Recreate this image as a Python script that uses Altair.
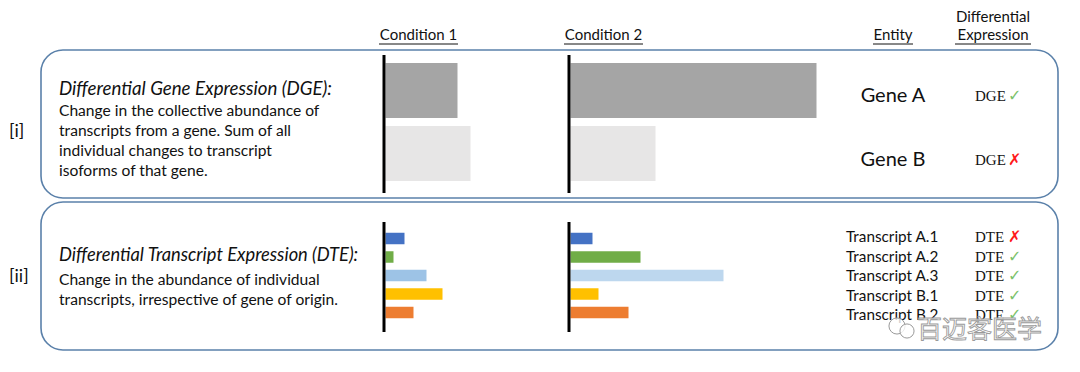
import altair as alt
import pandas as pd

# ---------------- data ----------------
conditions = ["Condition 1", "Condition 2"]
genes = ["Gene A", "Gene B"]
gene_cond1 = [72, 85]
gene_cond2 = [246, 85]
gene_de = [True, False]

transcripts = ["Transcript A.1", "Transcript A.2", "Transcript A.3",
               "Transcript B.1", "Transcript B.2"]
tx_cond1 = [19, 8, 41, 57, 28]
tx_cond2 = [22, 70, 153, 28, 58]
tx_de = [False, True, True, True, True]

panel_labels = ["[i]", "[ii]"]
dge_title = ["Differential Gene Expression (DGE):"]
dge_body = ["Change in the collective abundance of",
            "transcripts from a gene. Sum of all",
            "individual changes to transcript",
            "isoforms of that gene."]
dte_title = ["Differential Transcript Expression (DTE):"]
dte_body = ["Change in the abundance of individual",
            "transcripts, irrespective of gene of origin."]
watermark = "百迈客医学"

# ---------------- styles ----------------
gene_colors = ["#a5a5a5", "#e7e6e6"]
tx_colors = [["#4472c4", "#70ad47", "#9dc3e6", "#ffc000", "#ed7d31"],
             ["#4472c4", "#70ad47", "#bdd7ee", "#ffc000", "#ed7d31"]]
BOX_COLOR = "#5b81aa"
OK_COLOR = "#7cc26a"
NO_COLOR = "#ff1a1a"
FONT = "Lato"

# ---------------- layout (page pixel coordinates) ----------------
W, H = 1064, 356
AXIS_X = [384, 569]
BAR_START = [385.5, 570.5]
BOXES = [(41, 1058, 50, 198), (41, 1058, 202, 350)]
AXIS_Y = [(55, 193), (222, 332)]
GENE_TOP, GENE_PITCH, GENE_H = 63, 63, 55
TX_MID, TX_PITCH, TX_H = 238.5, 18.5, 11.5

xs = alt.Scale(domain=[8, 8 + W], nice=False, zero=False)
ys = alt.Scale(domain=[8, 8 + H], nice=False, zero=False, reverse=True)


def X(f="x"):
    return alt.X(f"{f}:Q", scale=xs, axis=None)


def Y(f="y"):
    return alt.Y(f"{f}:Q", scale=ys, axis=None)


# boxes
box_df = pd.DataFrame([dict(x=b[0], x2=b[1], y=b[2], y2=b[3]) for b in BOXES])
boxes = alt.Chart(box_df).mark_rect(
    cornerRadius=22, fill="white", stroke=BOX_COLOR, strokeWidth=1.6
).encode(x=X(), x2="x2:Q", y=Y(), y2="y2:Q")

# bars
rows = []
for ci, vals in enumerate([gene_cond1, gene_cond2]):
    for i, v in enumerate(vals):
        top = GENE_TOP + i * GENE_PITCH
        rows.append(dict(cond=conditions[ci], entity=genes[i],
                         x=BAR_START[ci], x2=BAR_START[ci] + v,
                         y=top, y2=top + GENE_H, color=gene_colors[i]))
for ci, vals in enumerate([tx_cond1, tx_cond2]):
    for i, v in enumerate(vals):
        mid = TX_MID + i * TX_PITCH
        rows.append(dict(cond=conditions[ci], entity=transcripts[i],
                         x=BAR_START[ci], x2=BAR_START[ci] + v,
                         y=mid - TX_H / 2, y2=mid + TX_H / 2,
                         color=tx_colors[ci][i]))
bars = alt.Chart(pd.DataFrame(rows)).mark_rect().encode(
    x=X(), x2="x2:Q", y=Y(), y2="y2:Q",
    color=alt.Color("color:N", scale=None))

# axis lines
ax_df = pd.DataFrame([dict(x=ax, y=a[0], y2=a[1]) for a in AXIS_Y for ax in AXIS_X])
axes = alt.Chart(ax_df).mark_rule(color="black", strokeWidth=3).encode(
    x=X(), y=Y(), y2="y2:Q")

# headers
hdr_df = pd.DataFrame([
    dict(t=conditions[0], x=418.5, y=40),
    dict(t=conditions[1], x=603.5, y=40),
    dict(t="Entity", x=893, y=40),
    dict(t="Differential", x=993, y=22),
    dict(t="Expression", x=993, y=40),
])
headers = alt.Chart(hdr_df).mark_text(
    font=FONT, fontSize=15, align="center", baseline="alphabetic", color="#111"
).encode(x=X(), y=Y(), text="t:N")
ul_df = pd.DataFrame([
    dict(x=379, x2=458, y=44), dict(x=564, x2=643, y=44),
    dict(x=873, x2=913, y=44), dict(x=955, x2=1031, y=44),
])
underlines = alt.Chart(ul_df).mark_rule(color="#111", strokeWidth=1).encode(
    x=X(), x2="x2:Q", y=Y())

# panel labels
pl_df = pd.DataFrame([dict(t=panel_labels[0], x=9, y=137),
                      dict(t=panel_labels[1], x=9, y=282)])
plabels = alt.Chart(pl_df).mark_text(
    font=FONT, fontSize=18, align="left", baseline="alphabetic", color="#111"
).encode(x=X(), y=Y(), text="t:N")

# description texts
title_df = pd.DataFrame([dict(t=dge_title[0], x=59, y=95, s=18.7),
                         dict(t=dte_title[0], x=59, y=261, s=18.3)])
titles = alt.Chart(title_df).mark_text(
    font=FONT, fontStyle="italic", align="left",
    baseline="alphabetic", color="#111"
).encode(x=X(), y=Y(), text="t:N", size=alt.Size("s:Q", scale=None))
body_rows = [dict(t=s, x=59, y=116 + i * 19.9) for i, s in enumerate(dge_body)]
body_rows += [dict(t=s, x=59, y=285 + i * 20) for i, s in enumerate(dte_body)]
body = alt.Chart(pd.DataFrame(body_rows)).mark_text(
    font=FONT, fontSize=15.6, align="left", baseline="alphabetic", color="#111"
).encode(x=X(), y=Y(), text="t:N")

# entity labels
gene_df = pd.DataFrame([dict(t=g, x=893, y=102 + i * 64) for i, g in enumerate(genes)])
gene_txt = alt.Chart(gene_df).mark_text(
    font=FONT, fontSize=20, align="center", baseline="alphabetic", color="#111"
).encode(x=X(), y=Y(), text="t:N")
tx_df = pd.DataFrame([dict(t=s, x=846, y=242 + i * 19.6) for i, s in enumerate(transcripts)])
tx_txt = alt.Chart(tx_df).mark_text(
    font=FONT, fontSize=15.3, align="left", baseline="alphabetic", color="#111"
).encode(x=X(), y=Y(), text="t:N")

# DE labels
de_rows = [dict(t="DGE", x=975, y=101 + i * 64) for i in range(len(genes))]
de_rows += [dict(t="DTE", x=975, y=242 + i * 19.6) for i in range(len(transcripts))]
de_txt = alt.Chart(pd.DataFrame(de_rows)).mark_text(
    font="Liberation Serif", fontSize=15, align="left", baseline="alphabetic",
    color="#111"
).encode(x=X(), y=Y(), text="t:N")
mk_rows = [dict(t="✓" if d else "✗", c=OK_COLOR if d else NO_COLOR, x=1008, y=101 + i * 64)
           for i, d in enumerate(gene_de)]
mk_rows += [dict(t="✓" if d else "✗", c=OK_COLOR if d else NO_COLOR, x=1008, y=242 + i * 19.6)
            for i, d in enumerate(tx_de)]
marks = alt.Chart(pd.DataFrame(mk_rows)).mark_text(
    font="DejaVu Sans", fontSize=16, align="left", baseline="alphabetic"
).encode(x=X(), y=Y(), text="t:N", color=alt.Color("c:N", scale=None))

# watermark
wm_df = pd.DataFrame([dict(t=watermark, x=917, y=338)])
wm = alt.Chart(wm_df).mark_text(
    font="Noto Sans CJK SC", fontSize=25, align="left", baseline="alphabetic",
    fill="white", fillOpacity=0.8, stroke="#9a9a9a", strokeWidth=0.9
).encode(x=X(), y=Y(), text="t:N")
icon_df = pd.DataFrame([dict(x=897, y=326, s=260), dict(x=907, y=331, s=200)])
icon = alt.Chart(icon_df).mark_point(
    shape="circle", filled=True, fill="white", fillOpacity=0.8,
    stroke="#9a9a9a", strokeWidth=1
).encode(x=X(), y=Y(), size=alt.Size("s:Q", scale=None))

chart = alt.layer(
    boxes, bars, axes, headers, underlines, plabels, titles, body,
    gene_txt, tx_txt, de_txt, marks, icon, wm
).properties(
    width=W, height=H, padding=0, autosize=alt.AutoSizeParams(type="none")
).configure_view(stroke=None)

chart.save("out.html", embed_options={"renderer": "svg", "actions": False})
